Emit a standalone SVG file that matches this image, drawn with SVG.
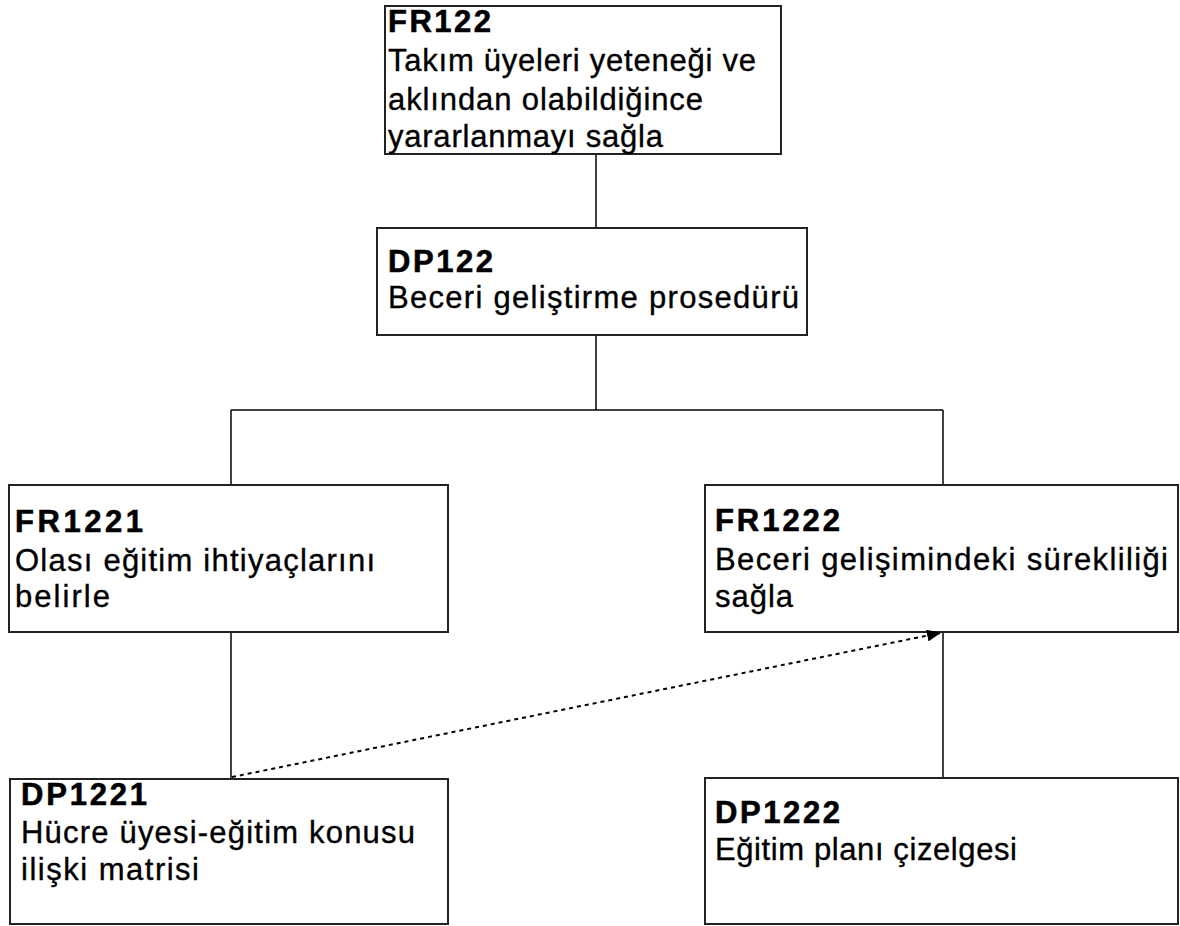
<svg xmlns="http://www.w3.org/2000/svg" width="1180" height="926" viewBox="0 0 1180 926">
  <style>
    .box { fill: #ffffff; stroke: #222222; stroke-width: 2; }
    .t { font-family: "Liberation Sans", Arial, sans-serif; font-size: 31px; fill: #000000; stroke: #000000; stroke-width: 0.35; }
    .id { font-weight: bold; stroke-width: 0.6; }
    .link { fill: none; stroke: #000000; stroke-width: 1.5; }
    .dep { fill: none; stroke: #000000; stroke-width: 2; stroke-dasharray: 4 4; }
  </style>
  <defs>
    <marker id="arrow" markerWidth="14" markerHeight="12" refX="13" refY="6" orient="auto" markerUnits="userSpaceOnUse">
      <path d="M0,0 L14,6 L0,12 Z" fill="#000000"/>
    </marker>
  </defs>
  <rect width="1180" height="926" fill="#ffffff"/>

  <g id="connectors">
    <line class="link" x1="596" y1="154" x2="596" y2="228"/>
    <line class="link" x1="596" y1="335" x2="596" y2="410"/>
    <line class="link" x1="231" y1="410" x2="943" y2="410"/>
    <line class="link" x1="231" y1="410" x2="231" y2="485"/>
    <line class="link" x1="943" y1="410" x2="943" y2="485"/>
    <line class="link" x1="231" y1="632" x2="231" y2="779"/>
    <line class="link" x1="943" y1="632" x2="943" y2="778"/>
  </g>

  <g id="FR122">
    <rect class="box" x="385" y="6" width="396" height="148"/>
    <text class="t id" x="388" y="32" textLength="103" lengthAdjust="spacing">FR122</text>
    <text class="t" x="388" y="71" textLength="368" lengthAdjust="spacing">Takım üyeleri yeteneği ve</text>
    <text class="t" x="388" y="110" textLength="315" lengthAdjust="spacing">aklından olabildiğince</text>
    <text class="t" x="388" y="147" textLength="275" lengthAdjust="spacing">yararlanmayı sağla</text>
  </g>

  <g id="DP122">
    <rect class="box" x="377" y="228" width="430" height="107"/>
    <text class="t id" x="388" y="272" textLength="105" lengthAdjust="spacing">DP122</text>
    <text class="t" x="388" y="308" textLength="411" lengthAdjust="spacing">Beceri geliştirme prosedürü</text>
  </g>

  <g id="FR1221">
    <rect class="box" x="9" y="485" width="439" height="147"/>
    <text class="t id" x="15" y="532" textLength="128" lengthAdjust="spacing">FR1221</text>
    <text class="t" x="15" y="571" textLength="360" lengthAdjust="spacing">Olası eğitim ihtiyaçlarını</text>
    <text class="t" x="15" y="607" textLength="95" lengthAdjust="spacing">belirle</text>
  </g>

  <g id="FR1222">
    <rect class="box" x="705" y="485" width="473" height="147"/>
    <text class="t id" x="715" y="531" textLength="125" lengthAdjust="spacing">FR1222</text>
    <text class="t" x="715" y="570" textLength="453" lengthAdjust="spacing">Beceri gelişimindeki sürekliliği</text>
    <text class="t" x="715" y="607" textLength="78" lengthAdjust="spacing">sağla</text>
  </g>

  <g id="DP1221">
    <rect class="box" x="10" y="779" width="438" height="145"/>
    <text class="t id" x="21" y="805" textLength="126" lengthAdjust="spacing">DP1221</text>
    <text class="t" x="21" y="843" textLength="394" lengthAdjust="spacing">Hücre üyesi-eğitim konusu</text>
    <text class="t" x="21" y="880" textLength="178" lengthAdjust="spacing">ilişki matrisi</text>
  </g>

  <g id="DP1222">
    <rect class="box" x="705" y="778" width="473" height="146"/>
    <text class="t id" x="715" y="823" textLength="125" lengthAdjust="spacing">DP1222</text>
    <text class="t" x="715" y="860" textLength="302" lengthAdjust="spacing">Eğitim planı çizelgesi</text>
  </g>

  <g id="dependency">
    <line class="dep" x1="232" y1="777" x2="940" y2="633" marker-end="url(#arrow)"/>
  </g>
</svg>
